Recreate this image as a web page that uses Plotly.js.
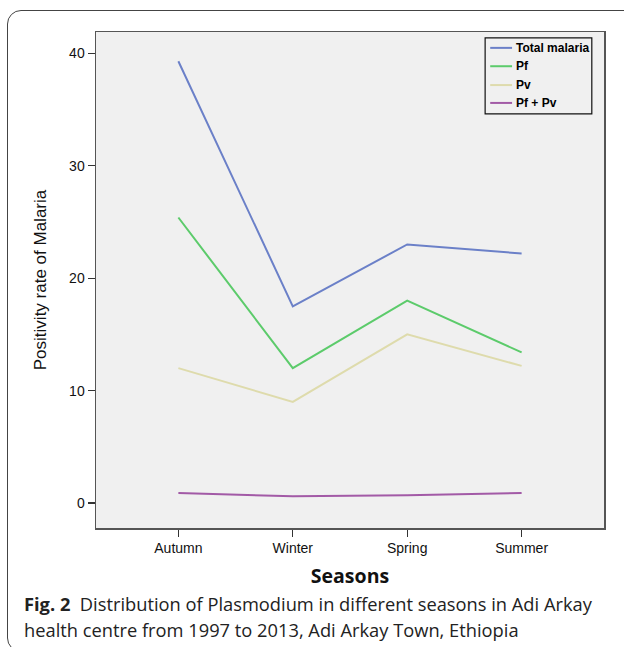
<!DOCTYPE html>
<html>
<head>
<meta charset="utf-8">
<script src="https://cdn.plot.ly/plotly-3.0.1.min.js"></script>
<style>
html,body{margin:0;padding:0;background:#fff;width:624px;height:647px;overflow:hidden;}
#frame{position:absolute;left:7px;top:10px;width:660px;height:642px;border:1.3px solid #444;border-radius:14px;box-sizing:border-box;}
#chart{position:absolute;left:0;top:0;width:624px;height:647px;}
</style>
</head>
<body>
<div id="frame"></div>
<div id="chart"></div>
<script>
const seasons = ["Autumn", "Winter", "Spring", "Summer"];
const totalMalaria = [39.3, 17.5, 23.0, 22.2];
const pf = [25.4, 12.0, 18.0, 13.4];
const pv = [12.0, 9.0, 15.0, 12.2];
const pfPv = [0.9, 0.6, 0.7, 0.9];
const seriesNames = ["Total malaria", "Pf", "Pv", "Pf + Pv"];
const seriesColors = ["#6b80c8", "#5ccb6b", "#dedbac", "#a25aa6"];
const yTicks = [0, 10, 20, 30, 40];

const allSeries = [totalMalaria, pf, pv, pfPv];
const traces = allSeries.map((vals, i) => ({
  x: seasons,
  y: vals,
  type: "scatter",
  mode: "lines",
  name: seriesNames[i],
  line: {color: seriesColors[i], width: 2}
}));

// custom legend (box, sample lines, labels) in paper coordinates
const legX0 = 0.766, legX1 = 0.976, legY0 = 0.835, legY1 = 0.988;
const entryY = [0.968, 0.931, 0.893, 0.857];
const shapes = [{type: "rect", xref: "paper", yref: "paper", x0: legX0, x1: legX1, y0: legY0, y1: legY1,
  line: {color: "#111", width: 1.2}, fillcolor: "#f0f0f0", layer: "above"}];
const annotations = [];
seriesNames.forEach((nm, i) => {
  shapes.push({type: "line", xref: "paper", yref: "paper", x0: 0.776, x1: 0.819, y0: entryY[i], y1: entryY[i],
    line: {color: seriesColors[i], width: 2}, layer: "above"});
  annotations.push({xref: "paper", yref: "paper", x: 0.822, y: entryY[i], xanchor: "left", yanchor: "middle",
    showarrow: false, text: "<b>" + nm + "</b>",
    font: {family: "Liberation Sans, Arial", size: 12, color: "#000"}});
});

annotations.push(
  {xref: "paper", yref: "paper", x: -0.145, y: -0.152, xanchor: "left", yanchor: "middle",
   showarrow: false, align: "left",
   text: "<b>Fig. 2</b>  Distribution of Plasmodium in different seasons in Adi Arkay",
   font: {family: "Open Sans, Noto Sans", size: 18.3, color: "#222"}},
  {xref: "paper", yref: "paper", x: -0.145, y: -0.204, xanchor: "left", yanchor: "middle",
   showarrow: false, align: "left",
   text: "health centre from 1997 to 2013, Adi Arkay Town, Ethiopia",
   font: {family: "Open Sans, Noto Sans", size: 18.3, color: "#222"}}
);

const layout = {
  width: 624,
  height: 647,
  margin: {l: 96, r: 20, t: 32, b: 119},
  paper_bgcolor: "rgba(0,0,0,0)",
  plot_bgcolor: "#f0f0f0",
  showlegend: false,
  xaxis: {
    type: "category",
    range: [-0.72, 3.72],
    showgrid: false, zeroline: false,
    showline: true, linecolor: "#555", linewidth: 1.5, mirror: true,
    ticks: "outside", ticklen: 7, tickcolor: "#333", tickwidth: 1.3,
    tickfont: {family: "Liberation Sans, Arial", size: 14, color: "#111"},
    title: {text: "<b>Seasons</b>", font: {family: "Open Sans, Liberation Sans, Arial", size: 19.5, color: "#111"}, standoff: 14}
  },
  yaxis: {
    range: [-2.22, 41.9],
    tickvals: yTicks,
    showgrid: false, zeroline: false,
    showline: true, linecolor: "#555", linewidth: 1.5, mirror: true,
    ticks: "outside", ticklen: 7, tickcolor: "#333", tickwidth: 1.3,
    tickfont: {family: "Liberation Sans, Arial", size: 14, color: "#111"},
    title: {text: "Positivity rate of Malaria", font: {family: "Liberation Sans, Arial", size: 17, color: "#111"}, standoff: 18}
  },
  shapes: shapes,
  annotations: annotations
};

Plotly.newPlot("chart", traces, layout, {displayModeBar: false, staticPlot: true});
</script>
</body>
</html>
